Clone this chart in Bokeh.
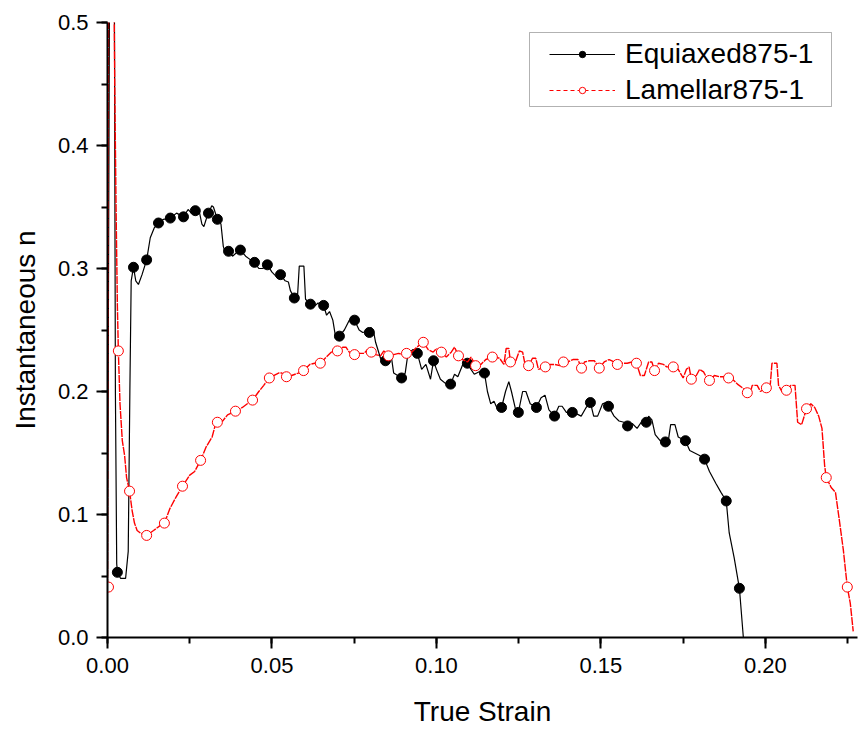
from bokeh.plotting import figure
from bokeh.models import Range1d, NumeralTickFormatter, Legend, LegendItem, BoxAnnotation
from bokeh.embed import file_html
from bokeh.resources import INLINE

# ---------------- data ----------------
# Equiaxed875-1 : line trace
eq_x = [0.0000, 0.0006, 0.0021, 0.0024, 0.0028, 0.0030, 0.0040, 0.0055, 0.0063, 0.0068, 0.0072,
        0.0079, 0.0086, 0.0094, 0.0105, 0.0119, 0.0130, 0.0142, 0.0155, 0.0170, 0.0191, 0.0210,
        0.0231, 0.0245, 0.0255, 0.0267, 0.0280, 0.0287, 0.0293, 0.0300, 0.0307, 0.0317, 0.0322,
        0.0334, 0.0345, 0.0352, 0.0360, 0.0368, 0.0380, 0.0393, 0.0404, 0.0420, 0.0435, 0.0447,
        0.0460, 0.0472, 0.0486, 0.0500, 0.0515, 0.0526, 0.0540, 0.0550, 0.0556, 0.0568, 0.0578,
        0.0583, 0.0597, 0.0602, 0.0617, 0.0632, 0.0640, 0.0657, 0.0666, 0.0675, 0.0685, 0.0693,
        0.0705, 0.0720, 0.0735, 0.0751, 0.0765, 0.0776, 0.0790, 0.0800, 0.0808, 0.0815, 0.0830,
        0.0845, 0.0855, 0.0862, 0.0870, 0.0882, 0.0894, 0.0905, 0.0913, 0.0928, 0.0935, 0.0942,
        0.0955, 0.0968, 0.0982, 0.0991, 0.1000, 0.1012, 0.1030, 0.1043, 0.1055, 0.1065, 0.1080,
        0.1094, 0.1105, 0.1115, 0.1130, 0.1146, 0.1155, 0.1165, 0.1175, 0.1185, 0.1198, 0.1210,
        0.1220, 0.1228, 0.1240, 0.1249, 0.1262, 0.1272, 0.1285, 0.1304, 0.1318, 0.1330, 0.1342,
        0.1359, 0.1372, 0.1382, 0.1395, 0.1413, 0.1425, 0.1440, 0.1455, 0.1468, 0.1478, 0.1490,
        0.1505, 0.1515, 0.1523, 0.1540, 0.1555, 0.1570, 0.1581, 0.1595, 0.1610, 0.1625, 0.1638,
        0.1645, 0.1655, 0.1665, 0.1680, 0.1696, 0.1705, 0.1712, 0.1725, 0.1735, 0.1757, 0.1770,
        0.1785, 0.1800, 0.1815, 0.1830, 0.1850, 0.1865, 0.1881, 0.1890, 0.1905, 0.1921, 0.1933,
        0.1936]
eq_y = [0.050, 0.520, 0.520, 0.200, 0.060, 0.053, 0.048, 0.048, 0.070, 0.200, 0.290,
        0.301, 0.290, 0.287, 0.295, 0.307, 0.325, 0.333, 0.337, 0.340, 0.341, 0.345,
        0.342, 0.348, 0.345, 0.347, 0.345, 0.336, 0.334, 0.340, 0.345, 0.351, 0.350,
        0.340, 0.336, 0.318, 0.311, 0.314, 0.310, 0.313, 0.315, 0.310, 0.307, 0.305,
        0.300, 0.300, 0.303, 0.297, 0.293, 0.295, 0.290, 0.289, 0.282, 0.276, 0.279,
        0.302, 0.302, 0.275, 0.271, 0.270, 0.272, 0.270, 0.262, 0.265, 0.258, 0.245,
        0.245, 0.250, 0.258, 0.258, 0.250, 0.248, 0.249, 0.252, 0.250, 0.240, 0.227,
        0.225, 0.232, 0.230, 0.215, 0.213, 0.211, 0.215, 0.230, 0.234, 0.234, 0.231,
        0.218, 0.222, 0.210, 0.225, 0.218, 0.210, 0.206, 0.206, 0.214, 0.212, 0.222,
        0.223, 0.218, 0.214, 0.216, 0.215, 0.200, 0.190, 0.192, 0.186, 0.187, 0.200,
        0.208, 0.200, 0.186, 0.183, 0.200, 0.200, 0.190, 0.187, 0.195, 0.197, 0.185,
        0.180, 0.188, 0.188, 0.183, 0.183, 0.182, 0.180, 0.187, 0.191, 0.180, 0.180,
        0.190, 0.191, 0.188, 0.180, 0.176, 0.175, 0.172, 0.174, 0.170, 0.176, 0.175,
        0.180, 0.177, 0.165, 0.160, 0.159, 0.160, 0.173, 0.173, 0.163, 0.160, 0.152,
        0.150, 0.148, 0.145, 0.135, 0.125, 0.118, 0.111, 0.085, 0.065, 0.040, 0.000,
        -0.010]
# Equiaxed875-1 : symbol positions
eq_sym_x = [0.0030, 0.0079, 0.0119, 0.0155, 0.0191, 0.0231, 0.0267, 0.0307, 0.0334, 0.0368,
            0.0404, 0.0447, 0.0486, 0.0526, 0.0568, 0.0617, 0.0657, 0.0705, 0.0751, 0.0796,
            0.0845, 0.0894, 0.0942, 0.0991, 0.1043, 0.1094, 0.1146, 0.1198, 0.1249, 0.1304,
            0.1359, 0.1413, 0.1468, 0.1523, 0.1581, 0.1638, 0.1696, 0.1757, 0.1815, 0.1881,
            0.1921]
eq_sym_y = [0.053, 0.301, 0.307, 0.337, 0.341, 0.342, 0.347, 0.345, 0.340, 0.314,
            0.315, 0.305, 0.303, 0.295, 0.276, 0.271, 0.270, 0.245, 0.258, 0.248,
            0.225, 0.211, 0.231, 0.225, 0.206, 0.223, 0.215, 0.187, 0.183, 0.187,
            0.180, 0.183, 0.191, 0.188, 0.172, 0.175, 0.159, 0.160, 0.145, 0.111,
            0.040]

# Lamellar875-1 : line trace
la_x = [0.0000, 0.0003, 0.0020, 0.0022, 0.0026, 0.0030, 0.0033, 0.0038, 0.0045, 0.0052, 0.0058,
        0.0067, 0.0075, 0.0082, 0.0090, 0.0100, 0.0119, 0.0140, 0.0160, 0.0173, 0.0190, 0.0210,
        0.0228, 0.0250, 0.0265, 0.0283, 0.0300, 0.0318, 0.0327, 0.0334, 0.0350, 0.0365, 0.0389,
        0.0410, 0.0425, 0.0441, 0.0460, 0.0475, 0.0492, 0.0505, 0.0520, 0.0530, 0.0544, 0.0560,
        0.0580, 0.0596, 0.0615, 0.0630, 0.0647, 0.0665, 0.0680, 0.0699, 0.0715, 0.0725, 0.0735,
        0.0751, 0.0765, 0.0780, 0.0790, 0.0802, 0.0815, 0.0830, 0.0840, 0.0854, 0.0870, 0.0885,
        0.0897, 0.0909, 0.0925, 0.0940, 0.0960, 0.0975, 0.0990, 0.1000, 0.1015, 0.1030, 0.1045,
        0.1055, 0.1067, 0.1080, 0.1095, 0.1105, 0.1119, 0.1135, 0.1150, 0.1170, 0.1180, 0.1192,
        0.1205, 0.1212, 0.1220, 0.1225, 0.1240, 0.1252, 0.1262, 0.1270, 0.1280, 0.1292, 0.1302,
        0.1310, 0.1331, 0.1345, 0.1360, 0.1375, 0.1386, 0.1400, 0.1415, 0.1430, 0.1441, 0.1450,
        0.1465, 0.1480, 0.1495, 0.1510, 0.1525, 0.1540, 0.1550, 0.1565, 0.1580, 0.1595, 0.1608,
        0.1620, 0.1632, 0.1645, 0.1655, 0.1663, 0.1675, 0.1690, 0.1700, 0.1720, 0.1735, 0.1750,
        0.1760, 0.1768, 0.1775, 0.1790, 0.1800, 0.1812, 0.1820, 0.1830, 0.1845, 0.1860, 0.1875,
        0.1888, 0.1900, 0.1915, 0.1930, 0.1945, 0.1955, 0.1960, 0.1975, 0.1985, 0.2003, 0.2015,
        0.2020, 0.2035, 0.2040, 0.2050, 0.2064, 0.2078, 0.2090, 0.2098, 0.2110, 0.2125, 0.2138,
        0.2150, 0.2162, 0.2172, 0.2180, 0.2185, 0.2200, 0.2213, 0.2225, 0.2237, 0.2249, 0.2258,
        0.2267]
la_y = [0.041, 0.520, 0.520, 0.450, 0.350, 0.270, 0.233, 0.190, 0.160, 0.148, 0.130,
        0.119, 0.103, 0.093, 0.087, 0.085, 0.083, 0.087, 0.091, 0.093, 0.105, 0.115,
        0.123, 0.132, 0.135, 0.144, 0.155, 0.163, 0.172, 0.175, 0.176, 0.181, 0.184,
        0.187, 0.190, 0.193, 0.200, 0.205, 0.211, 0.213, 0.215, 0.215, 0.212, 0.213,
        0.215, 0.217, 0.222, 0.223, 0.223, 0.228, 0.232, 0.233, 0.236, 0.236, 0.232,
        0.230, 0.231, 0.231, 0.234, 0.232, 0.230, 0.229, 0.233, 0.229, 0.230, 0.231,
        0.230, 0.231, 0.232, 0.236, 0.240, 0.234, 0.232, 0.235, 0.232, 0.228, 0.232,
        0.236, 0.229, 0.226, 0.224, 0.228, 0.221, 0.222, 0.226, 0.228, 0.228, 0.227,
        0.222, 0.235, 0.235, 0.224, 0.224, 0.233, 0.232, 0.221, 0.221, 0.227, 0.227,
        0.218, 0.220, 0.222, 0.222, 0.221, 0.224, 0.224, 0.226, 0.226, 0.219, 0.224,
        0.225, 0.225, 0.219, 0.224, 0.226, 0.224, 0.222, 0.223, 0.223, 0.224, 0.223,
        0.213, 0.213, 0.224, 0.224, 0.217, 0.223, 0.222, 0.220, 0.220, 0.218, 0.211,
        0.218, 0.220, 0.210, 0.213, 0.218, 0.216, 0.212, 0.209, 0.213, 0.212, 0.212,
        0.211, 0.210, 0.206, 0.203, 0.199, 0.200, 0.205, 0.205, 0.200, 0.203, 0.206,
        0.223, 0.223, 0.205, 0.200, 0.201, 0.205, 0.205, 0.175, 0.173, 0.186, 0.190,
        0.187, 0.180, 0.170, 0.140, 0.130, 0.122, 0.118, 0.095, 0.071, 0.041, 0.028,
        0.005]
# Lamellar875-1 : symbol positions
la_sym_x = [0.0003, 0.0033, 0.0067, 0.0119, 0.0173, 0.0228, 0.0283, 0.0334, 0.0389, 0.0441,
            0.0492, 0.0544, 0.0596, 0.0647, 0.0699, 0.0751, 0.0802, 0.0854, 0.0909, 0.0960,
            0.1015, 0.1067, 0.1119, 0.1170, 0.1225, 0.1280, 0.1331, 0.1386, 0.1441, 0.1495,
            0.1550, 0.1608, 0.1663, 0.1720, 0.1775, 0.1830, 0.1888, 0.1945, 0.2003, 0.2064,
            0.2125, 0.2185, 0.2249]
la_sym_y = [0.041, 0.233, 0.119, 0.083, 0.093, 0.123, 0.144, 0.175, 0.184, 0.193,
            0.211, 0.212, 0.217, 0.223, 0.233, 0.230, 0.232, 0.229, 0.231, 0.240,
            0.232, 0.229, 0.221, 0.228, 0.224, 0.221, 0.220, 0.224, 0.219, 0.219,
            0.222, 0.223, 0.217, 0.220, 0.210, 0.209, 0.211, 0.199, 0.203, 0.201,
            0.186, 0.130, 0.041]

series_names = ["Equiaxed875-1", "Lamellar875-1"]
x_title = "True Strain"
y_title = "Instantaneous n"

FONT = "Liberation Sans"

# ---------------- figure ----------------
p = figure(width=859, height=731, output_backend="svg", toolbar_location=None,
           x_range=Range1d(0, 0.228), y_range=Range1d(0, 0.5))
p.min_border_left = 107
p.min_border_right = 2
p.min_border_top = 22
p.min_border_bottom = 94
p.outline_line_color = None
p.background_fill_color = "white"
p.border_fill_color = "white"
p.xgrid.visible = False
p.ygrid.visible = False

eq_line = p.line(eq_x, eq_y, line_color="black", line_width=1.2)
eq_sym = p.scatter(eq_sym_x, eq_sym_y, marker="circle", size=10,
                   fill_color="black", line_color="black")
la_line = p.line(la_x, la_y, line_color="red", line_width=1.4, line_dash="8 1")
la_sym = p.scatter(la_sym_x, la_sym_y, marker="circle", size=10,
                   fill_color="white", line_color="red", line_width=1)
# legend sample for the dashed red line (draws nothing in the plot area)
la_key = p.line([float("nan")], [float("nan")], line_color="red", line_width=1.2,
                line_dash="4 3")

for ax, fmt in ((p.xaxis[0], "0.00"), (p.yaxis[0], "0.0")):
    ax.formatter = NumeralTickFormatter(format=fmt)
    ax.axis_line_width = 2
    ax.major_tick_line_width = 2
    ax.minor_tick_line_width = 2
    ax.major_tick_out = 11
    ax.major_tick_in = 0
    ax.minor_tick_out = 6
    ax.minor_tick_in = 0
    ax.major_label_text_font = FONT
    ax.major_label_text_font_size = "22px"
    ax.major_label_text_color = "black"
    ax.axis_label_text_font = FONT
    ax.axis_label_text_font_size = "28px"
    ax.axis_label_text_font_style = "normal"
    ax.axis_label_text_color = "black"

p.xaxis[0].ticker.desired_num_ticks = 5
p.xaxis[0].ticker.num_minor_ticks = 2
p.yaxis[0].ticker.num_minor_ticks = 2
p.xaxis[0].major_label_standoff = 9
p.yaxis[0].major_label_standoff = 8
p.xaxis[0].axis_label_standoff = 20
p.yaxis[0].axis_label_standoff = 14
p.xaxis[0].axis_label = x_title
p.yaxis[0].axis_label = y_title

legend = Legend(items=[LegendItem(label=series_names[0], renderers=[eq_line, eq_sym]),
                       LegendItem(label=series_names[1], renderers=[la_key, la_sym])],
                location=(442, 531), padding=0, spacing=4, margin=0,
                glyph_width=66, glyph_height=16, label_height=32, label_standoff=10,
                label_text_font=FONT, label_text_font_size="28px",
                label_text_color="black",
                border_line_color=None, background_fill_alpha=0)
p.add_layout(legend)

# legend frame (screen units relative to the plot frame, measured upward from its bottom)
box = BoxAnnotation(left=422, right=724, top=605, bottom=531,
                    left_units="screen", right_units="screen",
                    top_units="screen", bottom_units="screen",
                    fill_alpha=0, line_color="black", line_width=1)
p.add_layout(box)

open("out.html", "w").write(file_html(p, INLINE))
